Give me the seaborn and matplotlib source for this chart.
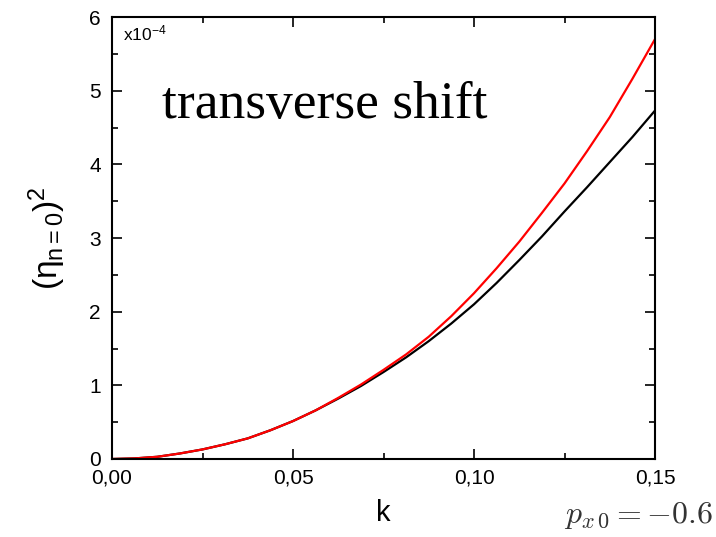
import matplotlib
matplotlib.use("Agg")
import matplotlib.pyplot as plt
import seaborn as sns
import pandas as pd
from matplotlib.ticker import MultipleLocator, FuncFormatter

k = [0, 0.00625, 0.0125, 0.01875, 0.025, 0.03125, 0.0375, 0.04375, 0.05, 0.05625,
     0.0625, 0.06875, 0.075, 0.08125, 0.0875, 0.09375, 0.1, 0.10625, 0.1125, 0.11875,
     0.125, 0.13125, 0.1375, 0.14375, 0.15]
black = [0, 0.008, 0.03, 0.075, 0.13, 0.2, 0.28, 0.39, 0.515, 0.66,
         0.82, 0.99, 1.18, 1.38, 1.60, 1.84, 2.10, 2.39, 2.70, 3.02,
         3.36, 3.69, 4.03, 4.37, 4.73]
red = [0, 0.008, 0.03, 0.075, 0.13, 0.2, 0.28, 0.39, 0.515, 0.66,
       0.83, 1.01, 1.21, 1.42, 1.66, 1.94, 2.25, 2.59, 2.95, 3.34,
       3.74, 4.18, 4.64, 5.16, 5.70]
xticks = [0.0, 0.05, 0.10, 0.15]
yticks = [0, 1, 2, 3, 4, 5, 6]

sns.set_theme(style="white")
plt.rcParams['font.family'] = ['Liberation Sans', 'DejaVu Sans']
plt.rcParams['mathtext.fontset'] = 'custom'
plt.rcParams['mathtext.rm'] = 'Liberation Sans'
plt.rcParams['mathtext.it'] = 'Liberation Sans:italic'
plt.rcParams['text.color'] = 'black'
plt.rcParams['axes.labelcolor'] = 'black'

df = pd.concat([
    pd.DataFrame({"k": k, "v": black, "s": "black"}),
    pd.DataFrame({"k": k, "v": red, "s": "red"}),
])

fig = plt.figure(figsize=(7.16, 5.37), dpi=100)
L, R, T, B = 112 / 716, 655 / 716, 1 - 17 / 537, 1 - 459 / 537
ax = fig.add_axes([L, B, R - L, T - B])
sns.lineplot(data=df, x="k", y="v", hue="s", palette={"black": "black", "red": "red"},
             linewidth=1.6, legend=False, ax=ax, sort=False)

ax.set_xlim(0, 0.15)
ax.set_ylim(0, 6)
ax.set_xticks(xticks)
ax.set_yticks(yticks)
ax.xaxis.set_minor_locator(MultipleLocator(0.025))
ax.yaxis.set_minor_locator(MultipleLocator(0.5))
ax.xaxis.set_major_formatter(FuncFormatter(lambda v, p: f"{v:.2f}".replace(".", ",")))
ax.tick_params(which="both", direction="in", top=True, right=True, bottom=True, left=True,
               width=1.2, colors="black", labelsize=15)
ax.tick_params(which="major", length=7)
ax.tick_params(which="minor", length=4)
ax.tick_params(axis="x", pad=7)
ax.tick_params(axis="y", pad=8)
for s in ax.spines.values():
    s.set_color("black")
    s.set_linewidth(1.5)

ax.set_xlabel("k", fontsize=21, labelpad=8)
ax.set_ylabel(r"(η$_{\mathrm{n=0}}$)$^{\mathrm{2}}$", fontsize=24, labelpad=15)

ax.text(0.021, 0.985, r"x10$^{\mathrm{-4}}$", transform=ax.transAxes, fontsize=12.5,
        va="top", ha="left")
ax.text(0.093, 0.80, "transverse shift", transform=ax.transAxes, fontsize=38.5,
        family="Liberation Serif", va="center", ha="left")
fig.text(0.995, 0.012, r"$p_{x\,0} = -0.6$", fontsize=23, ha="right", va="bottom",
         color="#333333", math_fontfamily="cm")

fig.savefig("out.png", dpi=100)
